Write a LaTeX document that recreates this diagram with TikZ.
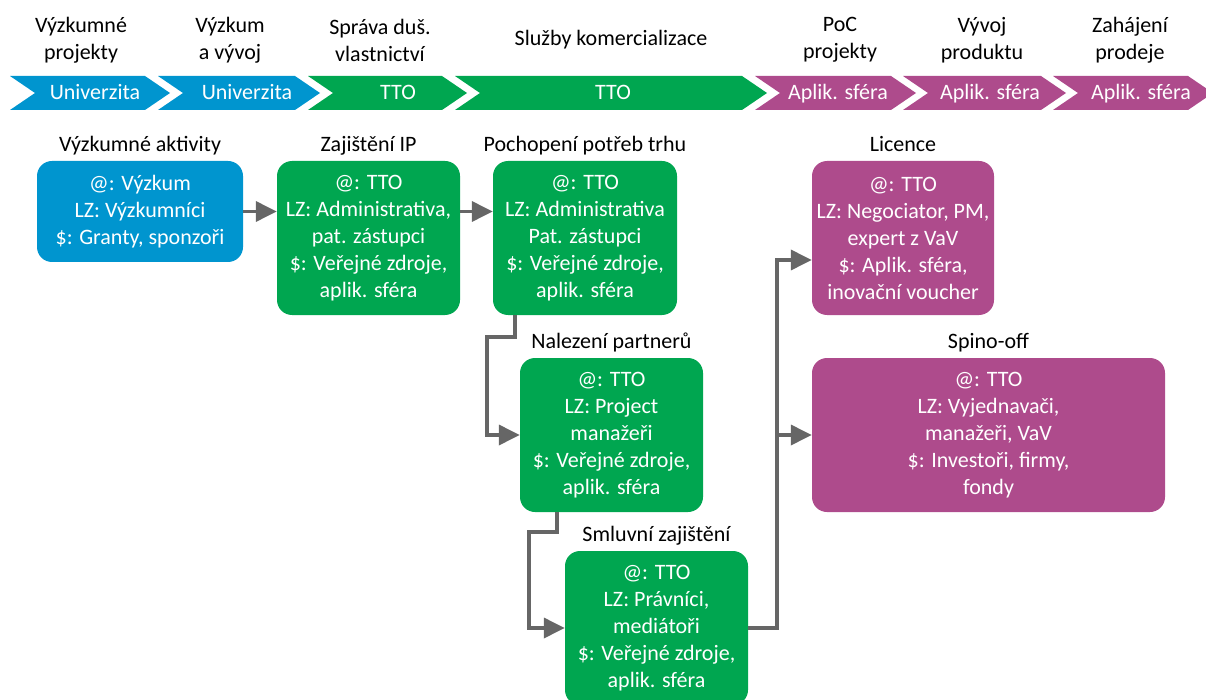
\documentclass[tikz,border=0pt]{standalone}
\usepackage{fontspec}
\setmainfont{Carlito}
\usetikzlibrary{arrows.meta}

\definecolor{uniblue}{RGB}{0,149,207}
\definecolor{ttogreen}{RGB}{0,166,80}
\definecolor{aplpurple}{RGB}{174,75,140}
\definecolor{arrowgray}{RGB}{102,102,102}

\newcommand{\boxfont}{\fontsize{22pt}{27pt}\selectfont}
% one arrow-shaped band piece: left x, right x, colour
\newcommand{\chevron}[3]{\fill[#3] (#1,76) -- (#2,76) -- (#2+25,93) -- (#2,110) -- (#1,110) -- (#1+25,93) -- cycle;}

\tikzstyle{phase} = [align=center, 
inner sep=0pt, 
font=\boxfont]
\tikzstyle{bartext} = [anchor=base, 
inner sep=0pt, 
text=white, 
font=\boxfont]
\tikzstyle{head} = [anchor=base, 
inner sep=0pt, 
font=\boxfont]
\tikzstyle{box} = [rectangle, rounded corners=15pt, 
minimum width=183pt, 
minimum height=154pt,
align=center, 
inner sep=0pt, 
text=white, 
font=\boxfont]
\tikzstyle{unibox} = [box, fill=uniblue]
\tikzstyle{ttobox} = [box, fill=ttogreen]
\tikzstyle{aplbox} = [box, fill=aplpurple]
\tikzstyle{arrow} = [line width=3.5pt, draw=arrowgray, -{Triangle[length=21pt, width=20pt]}]

\begin{document}
\begin{tikzpicture}[x=1pt, y=-1pt]
  \useasboundingbox (0,0) rectangle (1206,700);
  \clip (0,0) rectangle (1206,700);

  % phases
  \node (ph1) [phase] at (81,40) {Výzkumné\\projekty};
  \node (ph2) [phase] at (230,40) {Výzkum\\a vývoj};
  \node (ph3) [phase] at (380,40) {Správa duš.\\vlastnictví};
  \node (ph4) [phase] at (611,40) {Služby komercializace};
  \node (ph5) [phase] at (840,40) {PoC\\projekty};
  \node (ph6) [phase] at (982,40) {Vývoj\\produktu};
  \node (ph7) [phase] at (1130,40) {Zahájení\\prodeje};

  \chevron{10}{145}{uniblue}
  \chevron{158}{295}{uniblue}
  \chevron{308}{442}{ttogreen}
  \chevron{455}{742}{ttogreen}
  \chevron{755}{891}{aplpurple}
  \chevron{903}{1041}{aplpurple}
  \chevron{1053}{1188}{aplpurple}
  \node (bar1) [bartext] at (95,100) {Univerzita};
  \node (bar2) [bartext] at (247,100) {Univerzita};
  \node (bar3) [bartext] at (398,100) {TTO};
  \node (bar4) [bartext] at (613,100) {TTO};
  \node (bar5) [bartext] at (838,100) {Aplik. sféra};
  \node (bar6) [bartext] at (990,100) {Aplik. sféra};
  \node (bar7) [bartext] at (1141,100) {Aplik. sféra};

  % activities
  \node (b1) [unibox, minimum width=206pt, minimum height=101pt] at (140,211.5) {
  @: Výzkum\\LZ: Výzkumníci\\\$: Granty, sponzoři};
  \node (b2) [ttobox] at (368.5,238) {
  @: TTO\\LZ: Administrativa,\\pat. zástupci\\\$: Veřejné zdroje,\\aplik. sféra};
  \node (b3) [ttobox, minimum width=184pt] at (585,238) {
  @: TTO\\LZ: Administrativa\\Pat. zástupci\\\$: Veřejné zdroje,\\aplik. sféra};
  \node (b4) [ttobox] at (611.5,435) {
  @: TTO\\LZ: Project\\manažeři\\\$: Veřejné zdroje,\\aplik. sféra};
  \node (b5) [ttobox] at (656.5,628) {
  @: TTO\\LZ: Právníci,\\mediátoři\\\$: Veřejné zdroje,\\aplik. sféra};
  \node (lic) [aplbox, minimum width=182pt] at (903,238) {
  @: TTO\\LZ: Negociator, PM,\\expert z VaV\\\$: Aplik. sféra,\\inovační voucher};
  \node (spin) [aplbox, minimum width=353pt] at (988.5,435) {
  @: TTO\\LZ: Vyjednavači,\\manažeři, VaV\\\$: Investoři, firmy,\\fondy};

  \node (h1) [head] at ([yshift=9pt]b1.north) {Výzkumné aktivity};
  \node (h2) [head] at ([yshift=9pt]b2.north) {Zajištění IP};
  \node (h3) [head] at ([yshift=9pt]b3.north) {Pochopení potřeb trhu};
  \node (h4) [head] at ([yshift=9pt]b4.north) {Nalezení partnerů};
  \node (h5) [head] at ([yshift=9pt]b5.north) {Smluvní zajištění};
  \node (h6) [head] at ([yshift=9pt]lic.north) {Licence};
  \node (h7) [head] at ([yshift=9pt]spin.north) {Spino-off};

  \draw [arrow] (b1.east) -- (b1.east -| b2.west);
  \draw [arrow] (b2.east |- b1.east) -- (b3.west |- b1.east);
  \draw [arrow] ([xshift=22pt]b3.south west) -- ++(0,22) -| ([xshift=-33pt]b4.west) -- (b4.west);
  \draw [arrow] ([xshift=37pt]b4.south west) -- ++(0,20) -| ([xshift=-36pt]b5.west) -- (b5.west);
  \draw [arrow] (b5.east) -- ++(29,0) coordinate (fork) |- ([yshift=-22pt]lic.west);
  \draw [arrow] (fork) |- (spin.west);
\end{tikzpicture}
\end{document}
